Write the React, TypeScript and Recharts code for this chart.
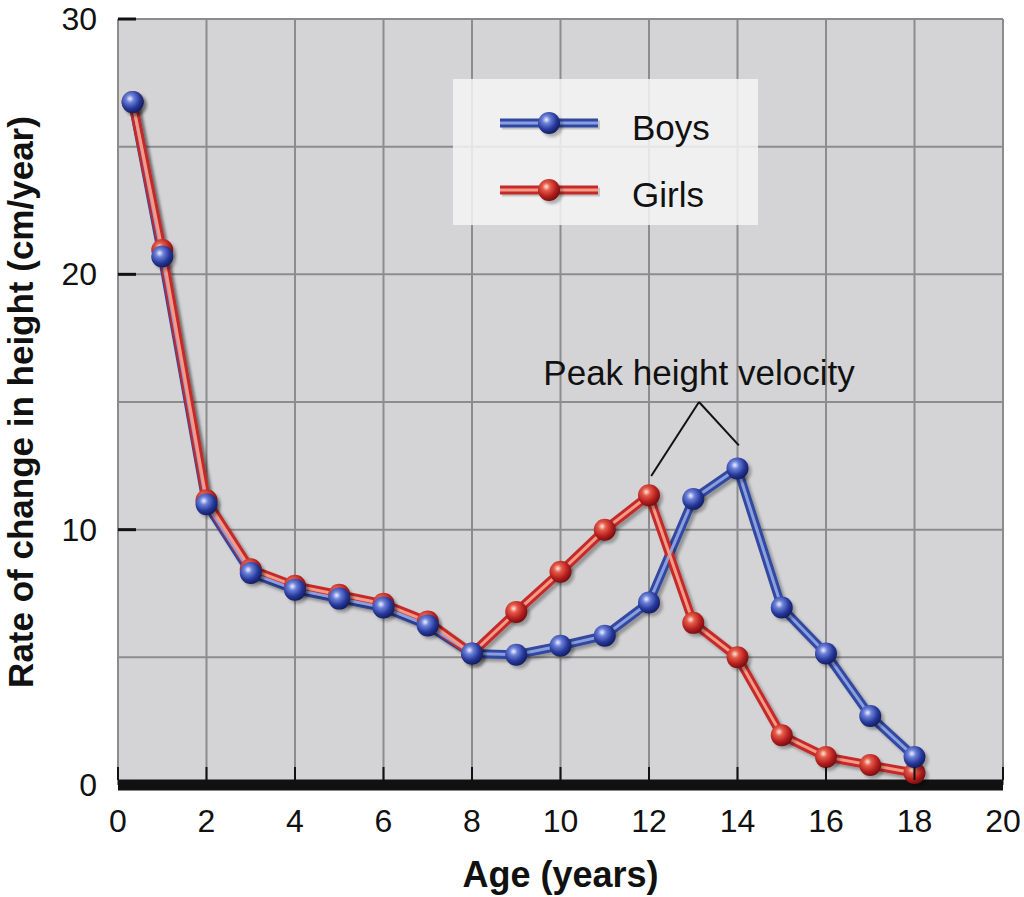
import { LineChart, Line, XAxis, YAxis, CartesianGrid, Legend, ReferenceLine, ReferenceDot } from "recharts"

const ages = [0.33, 1, 2, 3, 4, 5, 6, 7, 8, 9, 10, 11, 12, 13, 14, 15, 16, 17, 18]
const boys = [26.75, 20.7, 11.0, 8.3, 7.65, 7.3, 6.95, 6.25, 5.15, 5.1, 5.45, 5.85, 7.15, 11.2, 12.4, 6.95, 5.15, 2.7, 1.1]
const girls = [26.75, 20.95, 11.15, 8.45, 7.8, 7.45, 7.1, 6.4, 5.15, 6.78, 8.35, 10.0, 11.35, 6.35, 5.0, 1.95, 1.1, 0.78, 0.47]

const xTicks = [0, 2, 4, 6, 8, 10, 12, 14, 16, 18, 20]
const yTicks = [0, 5, 10, 15, 20, 25, 30]
const yLabels = [0, 10, 20, 30]

const peakNote = "Peak height velocity"
const peakApex = { x: 13.13, y: 15.0 }
const peakGirls = { x: 12.05, y: 12.1 }
const peakBoys = { x: 14.03, y: 13.3 }

const data = ages.map((age, i) => ({ age, boys: boys[i], girls: girls[i] }))

const font = "'Liberation Sans', Arial, Helvetica, sans-serif"

const XTick = (props: any) => {
  const { x, y, payload } = props
  return (
    <g>
      <line x1={x} x2={x} y1={y - 5} y2={y - 18} stroke="#111" strokeWidth={2} />
      <text x={x} y={y + 47} textAnchor="middle" fontSize={32} fontFamily={font} fill="#111">
        {payload.value}
      </text>
    </g>
  )
}

const YTick = (props: any) => {
  const { x, y, payload } = props
  if (!yLabels.includes(payload.value)) return <g />
  return (
    <g>
      <line x1={x} x2={x + 18} y1={y} y2={y} stroke="#111" strokeWidth={3} />
      <text x={x - 21} y={y + 11} textAnchor="end" fontSize={32} fontFamily={font} fill="#111">
        {payload.value}
      </text>
    </g>
  )
}

const YLabel = (props: any) => {
  const { viewBox } = props
  const cx = viewBox.x + 33
  const cy = viewBox.y + viewBox.height / 2
  return (
    <text x={cx} y={cy} transform={`rotate(-90, ${cx}, ${cy})`} textAnchor="middle"
      fontSize={35} fontWeight="bold" fontFamily={font} fill="#111">
      Rate of change in height (cm/year)
    </text>
  )
}

const NoteLabel = (props: any) => {
  const { viewBox } = props
  return (
    <text x={viewBox.x} y={viewBox.y} textAnchor="middle" fontSize={35} fontFamily={font} fill="#111">
      {peakNote}
    </text>
  )
}

const Sphere = ({ cx, cy, grad }: any) => {
  if (cx == null || cy == null) return <g />
  return (
    <g>
      <circle cx={cx + 3} cy={cy + 3} r={11} fill="rgba(0,0,0,0.28)" filter="url(#blur)" />
      <circle cx={cx} cy={cy} r={11} fill={`url(#${grad})`} />
    </g>
  )
}

const series = [
  { name: "Boys", outer: "#3048a0", inner: "#8b9ee2", grad: "gBlue" },
  { name: "Girls", outer: "#c42a2a", inner: "#f59a85", grad: "gRed" },
]

const LegendBox = () => (
  <div style={{ position: "relative", width: 305, height: 146, background: "rgba(244,244,244,0.85)", fontFamily: font }}>
    {series.map((s, i) => (
      <div key={s.name} style={{ position: "absolute", left: 0, top: 44 + i * 67 - 17, width: 305, height: 34 }}>
        <svg width={110} height={34} style={{ position: "absolute", left: 45, top: 0 }}>
          <line x1={4} x2={102} y1={19} y2={19} stroke="rgba(0,0,0,0.18)" strokeWidth={9} />
          <line x1={2} x2={100} y1={17} y2={17} stroke={s.outer} strokeWidth={9} />
          <line x1={2} x2={100} y1={17} y2={17} stroke={s.inner} strokeWidth={3} />
          <Sphere cx={51} cy={17} grad={s.grad} />
        </svg>
        <span style={{ position: "absolute", left: 179, top: 2, fontSize: 35, color: "#111", lineHeight: "40px" }}>{s.name}</span>
      </div>
    ))}
  </div>
)

export default function App() {
  return (
    <div style={{ position: "absolute", left: 0, top: 0, width: 1024, height: 897, background: "#fff" }}>
      <LineChart width={1024} height={897} data={data} margin={{ top: 19, right: 21, bottom: 0, left: 0 }}>
        <defs>
          <radialGradient id="gBlue" cx="38%" cy="35%" r="65%">
            <stop offset="0%" stopColor="#eef1ff" />
            <stop offset="28%" stopColor="#6b80d8" />
            <stop offset="70%" stopColor="#26389a" />
            <stop offset="100%" stopColor="#141f66" />
          </radialGradient>
          <radialGradient id="gRed" cx="38%" cy="35%" r="65%">
            <stop offset="0%" stopColor="#ffe6dc" />
            <stop offset="28%" stopColor="#e45a48" />
            <stop offset="70%" stopColor="#b51e1e" />
            <stop offset="100%" stopColor="#7a1010" />
          </radialGradient>
          <filter id="shadow" filterUnits="userSpaceOnUse" x="0" y="0" width="1024" height="897">
            <feDropShadow dx="3" dy="3" stdDeviation="1.5" floodColor="#000" floodOpacity="0.3" />
          </filter>
          <filter id="blur">
            <feGaussianBlur stdDeviation="1.5" />
          </filter>
        </defs>
        <CartesianGrid stroke="#8c8c8c" strokeWidth={2} fill="#d4d4d6" fillOpacity={1} />
        <XAxis type="number" dataKey="age" domain={[0, 20]} ticks={xTicks} interval={0}
          tickSize={0} tickMargin={0} height={112} tick={<XTick />}
          axisLine={{ stroke: "#111", strokeWidth: 11 }} tickLine={false}
          label={{ value: "Age (years)", position: "insideBottom", offset: 10, fontSize: 36, fontWeight: "bold", fontFamily: font, fill: "#111" }} />
        <YAxis type="number" domain={[0, 30]} ticks={yTicks} interval={0} width={118}
          tickSize={0} tickMargin={0} tick={<YTick />} axisLine={false} tickLine={false}
          label={<YLabel />} />
        <Legend layout="vertical" align="center" verticalAlign="middle" content={<LegendBox />}
          wrapperStyle={{ top: 79, left: 453, width: 305, height: 146 }} />
        <ReferenceLine segment={[peakGirls, peakApex]} stroke="#111" strokeWidth={2} />
        <ReferenceLine segment={[peakApex, peakBoys]} stroke="#111" strokeWidth={2} />
        <ReferenceDot x={peakApex.x} y={15.65} r={0} fill="none" stroke="none" label={<NoteLabel />} />
        {series.map((s) => (
          <Line key={s.name + "o"} type="linear" dataKey={s.name.toLowerCase()} stroke={s.outer} strokeWidth={9}
            dot={false} activeDot={false} filter="url(#shadow)" isAnimationActive={false} legendType="none" />
        ))}
        {series.map((s) => (
          <Line key={s.name + "i"} type="linear" dataKey={s.name.toLowerCase()} stroke={s.inner} strokeWidth={3}
            dot={false} activeDot={false} isAnimationActive={false} legendType="none" />
        ))}
        {[series[1], series[0]].map((s) => (
          <Line key={s.name + "d"} type="linear" dataKey={s.name.toLowerCase()} stroke="none"
            dot={(p: any) => <Sphere key={p.index} cx={p.cx} cy={p.cy} grad={s.grad} />}
            activeDot={false} isAnimationActive={false} legendType="none" />
        ))}
      </LineChart>
    </div>
  )
}
